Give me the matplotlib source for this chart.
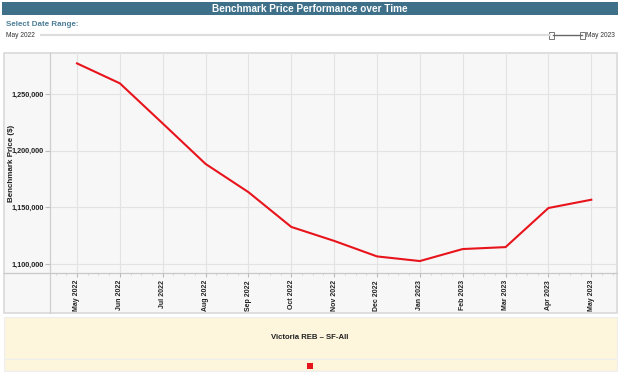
import matplotlib
matplotlib.use("Agg")
import matplotlib.pyplot as plt
from matplotlib.patches import Rectangle
from matplotlib.ticker import FuncFormatter, MultipleLocator

plt.rcParams['font.family'] = ['Liberation Sans', 'DejaVu Sans']

months = ["May 2022", "Jun 2022", "Jul 2022", "Aug 2022", "Sep 2022", "Oct 2022",
          "Nov 2022", "Dec 2022", "Jan 2023", "Feb 2023", "Mar 2023", "Apr 2023", "May 2023"]
prices = [1277000, 1259400, 1224000, 1188300, 1163400, 1132700,
          1120400, 1106700, 1102600, 1113200, 1114900, 1149400, 1156700]
y_ticks = [1100000, 1150000, 1200000, 1250000]
series_name = "Victoria REB \u2013 SF-All"
title = "Benchmark Price Performance over Time"

W, H = 620, 374
fig = plt.figure(figsize=(W / 100, H / 100), dpi=100)
fig.patch.set_facecolor("white")

def px_rect(x0, y0, x1, y1):
    return [x0 / W, 1 - y1 / H, (x1 - x0) / W, (y1 - y0) / H]

# background / decoration layer
deco = fig.add_axes([0, 0, 1, 1], zorder=0)
deco.set_xlim(0, W)
deco.set_ylim(H, 0)
deco.axis("off")

# title bar
deco.add_patch(Rectangle((2, 2), 616, 13, facecolor="#3f708a", edgecolor="none"))
deco.text(310, 8.7, title, color="white", fontsize=7.2, fontweight="bold",
          ha="center", va="center")
deco.text(6, 24, "Select Date Range:", color="#4d7d96", fontsize=5.8,
          fontweight="bold", ha="left", va="center")
deco.text(6, 35, months[0], color="#333333", fontsize=4.8, ha="left", va="center")
deco.plot([40, 551], [35, 35], color="#dddddd", lw=1.6, solid_capstyle="butt")
deco.plot([553, 582], [35, 35], color="#666666", lw=1.0)
for hx in (551.5, 582.5):
    deco.add_patch(Rectangle((hx - 2.5, 31.5), 5, 7, facecolor="white",
                             edgecolor="#777777", lw=0.7))
deco.text(586, 35, months[-1], color="#333333", fontsize=4.8, ha="left", va="center")

# chart container
deco.add_patch(Rectangle((4, 53), 613, 260, facecolor="#f7f7f7", edgecolor="#d9d9d9", lw=1.2))
deco.plot([50, 50], [53, 313], color="#cfcfcf", lw=0.9)
deco.plot([4, 617], [273, 273], color="#c8c8c8", lw=0.9)

# legend bands
deco.add_patch(Rectangle((4, 316.7), 613, 42.6, facecolor="#fdf5dc", edgecolor="#eeeeee", lw=0.8))
deco.add_patch(Rectangle((4, 359.3), 613, 11.7, facecolor="#fdf5dc", edgecolor="#eeeeee", lw=0.8))
deco.text(310, 337.5, series_name, color="#222222", fontsize=5.6, fontweight="bold",
          ha="center", va="center")
deco.add_patch(Rectangle((307, 362.7), 6, 6, facecolor="#e8141c", edgecolor="none"))

# main axes
ax = fig.add_axes(px_rect(50, 53, 617, 273), zorder=1)
ax.patch.set_alpha(0)
x = list(range(len(months)))
ax.plot(x, prices, color="#e8141c", lw=1.5, zorder=3, solid_joinstyle="round")
ax.set_xlim(-0.63, 12.6)
ax.set_ylim(1092060, 1286160)
ax.set_yticks(y_ticks)
ax.yaxis.set_major_formatter(FuncFormatter(lambda v, p: f"{int(v):,}"))
ax.set_xticks(x)
ax.set_xticklabels(months, rotation=90, fontsize=5, fontweight="bold", color="#222222")
ax.xaxis.set_minor_locator(MultipleLocator(0.25))
ax.tick_params(axis="x", which="major", length=3, color="#bbbbbb", pad=2)
ax.tick_params(axis="x", which="minor", length=1.5, color="#cccccc")
ax.tick_params(axis="y", length=3.5, color="#bbbbbb", labelsize=5.2, labelcolor="#222222", pad=1)
for lab in ax.get_yticklabels():
    lab.set_fontweight("bold")
ax.grid(True, color="#e3e3e3", lw=0.8, zorder=0)
for s in ax.spines.values():
    s.set_visible(False)
ax.set_ylabel("Benchmark Price ($)", fontsize=5.8, fontweight="bold", color="#222222")
ax.yaxis.set_label_coords(-0.062, 0.5)

fig.savefig("out.png", dpi=100, facecolor="white")
